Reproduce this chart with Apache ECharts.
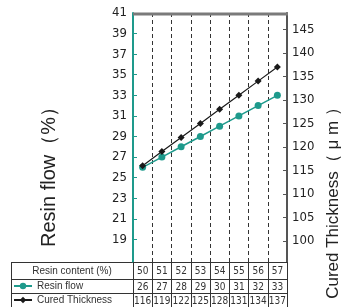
<!DOCTYPE html>
<html>
<head>
<meta charset="utf-8">
<script src="https://cdn.jsdelivr.net/npm/echarts@6/dist/echarts.min.js"></script>
<style>
  html, body { margin: 0; padding: 0; background: #fff; }
  #chart { width: 343px; height: 307px; }
</style>
</head>
<body>
<div id="chart"></div>
<script>
// data
const resinContent = [50, 51, 52, 53, 54, 55, 56, 57];
const resinFlow = [26, 27, 28, 29, 30, 31, 32, 33];
const curedThickness = [116, 119, 122, 125, 128, 131, 134, 137];
const flowTicks = [19, 21, 23, 25, 27, 29, 31, 33, 35, 37, 39, 41];
const thicknessTicks = [100, 105, 110, 115, 120, 125, 130, 135, 140, 145];

const TEAL = '#1e9a8c';
const DARK = '#1a1a1a';
const LINE = '#333';
const narrow = "'Liberation Sans Narrow', 'Arial Narrow', 'DejaVu Sans Condensed', sans-serif";
const sans = "'Liberation Sans', Arial, sans-serif";

const chart = echarts.init(document.getElementById('chart'));

// bottom axes double as the rows of the data table
const tableAxis = (offset, tickLen, margin, values) => ({
  type: 'category',
  gridIndex: 0,
  position: 'bottom',
  offset: offset,
  data: resinContent,
  boundaryGap: true,
  axisLine: { show: true, onZero: false, lineStyle: { color: LINE, width: 1 } },
  axisTick: { show: true, length: tickLen, lineStyle: { color: LINE, width: 1 } },
  axisLabel: {
    show: true,
    margin: margin,
    color: '#333',
    fontSize: 10,
    lineHeight: 10,
    fontFamily: narrow,
    interval: 0,
    formatter: (v, i) => String(values[i])
  },
  splitLine: { show: false }
});

const option = {
  animation: false,
  backgroundColor: '#fff',
  grid: { left: 133, right: 56, top: 13, bottom: 45, containLabel: false },
  legend: {
    orient: 'vertical',
    left: 13,
    top: 281,
    padding: 0,
    itemGap: 4,
    itemWidth: 18,
    itemHeight: 8,
    textStyle: { fontSize: 10, lineHeight: 10, color: '#333', fontFamily: sans },
    data: ['Resin flow', 'Cured Thickness']
  },
  xAxis: [
    Object.assign(tableAxis(0, 17, 4, resinContent), {
      splitLine: { show: true, lineStyle: { color: LINE, width: 1, type: [4, 3] } }
    }),
    tableAxis(17, 14, 3, resinFlow),
    tableAxis(31, 14, 3, curedThickness)
  ],
  yAxis: [
    {
      type: 'value',
      position: 'left',
      min: 16.8,
      max: 41,
      axisLine: { show: true, onZero: false, lineStyle: { color: TEAL, width: 2 } },
      axisTick: { show: true, inside: true, length: 4, customValues: flowTicks, lineStyle: { color: TEAL } },
      axisLabel: { color: '#222', fontSize: 13, fontFamily: narrow, margin: 6, customValues: flowTicks },
      splitLine: { show: false }
    },
    {
      type: 'value',
      position: 'right',
      min: 95.5,
      max: 148.5,
      axisLine: { show: true, onZero: false, lineStyle: { color: '#555', width: 2 } },
      axisTick: { show: true, inside: true, length: 4, customValues: thicknessTicks, lineStyle: { color: '#555' } },
      axisLabel: { color: '#222', fontSize: 13, fontFamily: narrow, margin: 5, customValues: thicknessTicks },
      splitLine: { show: false }
    }
  ],
  series: [
    {
      name: 'Resin flow',
      type: 'line',
      xAxisIndex: 0,
      yAxisIndex: 0,
      data: resinFlow,
      symbol: 'circle',
      symbolSize: 7,
      itemStyle: { color: TEAL },
      lineStyle: { color: TEAL, width: 1.5 }
    },
    {
      name: 'Cured Thickness',
      type: 'line',
      xAxisIndex: 0,
      yAxisIndex: 1,
      data: curedThickness,
      symbol: 'diamond',
      symbolSize: 7,
      itemStyle: { color: DARK },
      lineStyle: { color: DARK, width: 1.2 }
    }
  ],
  graphic: [
    // grey frame along the top of the plot
    { type: 'line', z: 100, shape: { x1: 133, y1: 14, x2: 288, y2: 14 }, style: { stroke: '#7a7a7a', lineWidth: 3 } },
    // axis titles
    {
      type: 'text', x: 49, y: 172, rotation: Math.PI / 2,
      style: { text: 'Resin flow（%）', fontSize: 20, fill: '#222', fontFamily: sans, align: 'center', verticalAlign: 'middle' }
    },
    {
      type: 'text', x: 333, y: 199, rotation: Math.PI / 2,
      style: { text: 'Cured Thickness（ μ m ）', fontSize: 17, fill: '#222', fontFamily: sans, align: 'center', verticalAlign: 'middle' }
    },
    // first column of the table
    {
      type: 'text', x: 72, y: 271,
      style: { text: 'Resin content (%)', fontSize: 10, fill: '#333', fontFamily: sans, align: 'center', verticalAlign: 'middle' }
    },
    { type: 'line', shape: { x1: 11.5, y1: 262, x2: 11.5, y2: 307 }, style: { stroke: LINE, lineWidth: 1 } },
    { type: 'line', shape: { x1: 11, y1: 262.5, x2: 133, y2: 262.5 }, style: { stroke: LINE, lineWidth: 1 } },
    { type: 'line', shape: { x1: 11, y1: 279.5, x2: 133, y2: 279.5 }, style: { stroke: LINE, lineWidth: 1 } },
    { type: 'line', shape: { x1: 11, y1: 293.5, x2: 133, y2: 293.5 }, style: { stroke: LINE, lineWidth: 1 } }
  ]
};

chart.setOption(option);
</script>
</body>
</html>
